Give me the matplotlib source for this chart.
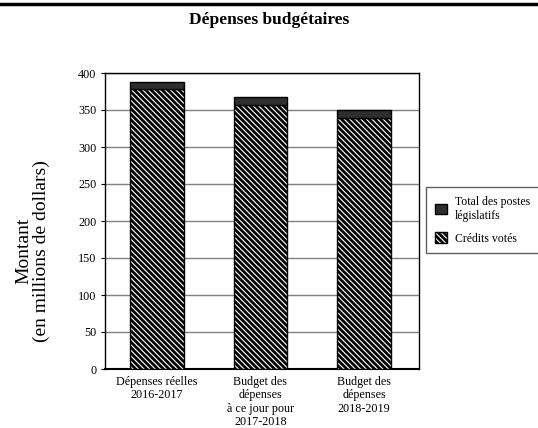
import matplotlib
matplotlib.use("Agg")
import matplotlib.pyplot as plt
from matplotlib.lines import Line2D
import numpy as np

plt.rcParams['font.family'] = ['Liberation Serif', 'DejaVu Serif']
plt.rcParams['hatch.linewidth'] = 2.0

# données (millions de dollars)
categories = ["Dépenses réelles\n2016-2017",
              "Budget des\ndépenses\nà ce jour pour\n2017-2018",
              "Budget des\ndépenses\n2018-2019"]
credits_votes = [378, 357, 339]
postes_legislatifs = [10, 10, 11]
yticks = [0, 50, 100, 150, 200, 250, 300, 350, 400]

fig = plt.figure(figsize=(5.38, 4.28), dpi=100)
ax = fig.add_axes([105/538, 1-369/428, 314/538, 296/428])

x = np.arange(len(categories))
w = 0.52
b1 = ax.bar(x, credits_votes, w, color='white', edgecolor='black',
            hatch='\\\\\\\\\\\\', linewidth=1.0, zorder=3, label='Crédits votés')
b2 = ax.bar(x, postes_legislatifs, w, bottom=credits_votes, color='#2e2e2e',
            edgecolor='black', linewidth=1.0, zorder=3,
            label='Total des postes\nlégislatifs')

ax.set_xlim(-0.5, 2.53)
ax.set_ylim(0, 400)
ax.set_yticks(yticks)
ax.yaxis.grid(True, color='#808080', linewidth=1.0, zorder=0)
ax.set_xticks(x)
ax.set_xticklabels(categories, fontsize=8.7, linespacing=1.15)
ax.tick_params(axis='x', length=0, pad=5)
ax.tick_params(axis='y', labelsize=8.7, length=3, pad=3)
for s in ax.spines.values():
    s.set_linewidth(1.0)
ax.spines['bottom'].set_linewidth(1.5)

fig.text(33/538, 1-251/428, "Montant\n(en millions de dollars)", rotation=90,
         ha='center', va='center', fontsize=14, linespacing=1.0)

fig.text(0.5, 1-20/428, "Dépenses budgétaires", ha='center', va='center',
         fontsize=12.5, fontweight='bold')
fig.add_artist(Line2D([0, 1], [1-4/428, 1-4/428], color='black', linewidth=2.5))

# légende qui dépasse le bord droit, comme dans l'original
leg = fig.legend([b2, b1], ['Total des postes\nlégislatifs', 'Crédits votés'],
                 loc='upper left', mode='expand',
                 bbox_to_anchor=(426/538, 1-253/428, 118/538, 66/428),
                 borderaxespad=0, fontsize=8.5, fancybox=False, framealpha=1,
                 edgecolor='#606060', handlelength=1.0, handleheight=1.0,
                 handletextpad=0.7, labelspacing=0.9, borderpad=0.75)
leg.get_frame().set_linewidth(1.0)

fig.savefig("out.png", dpi=100)
